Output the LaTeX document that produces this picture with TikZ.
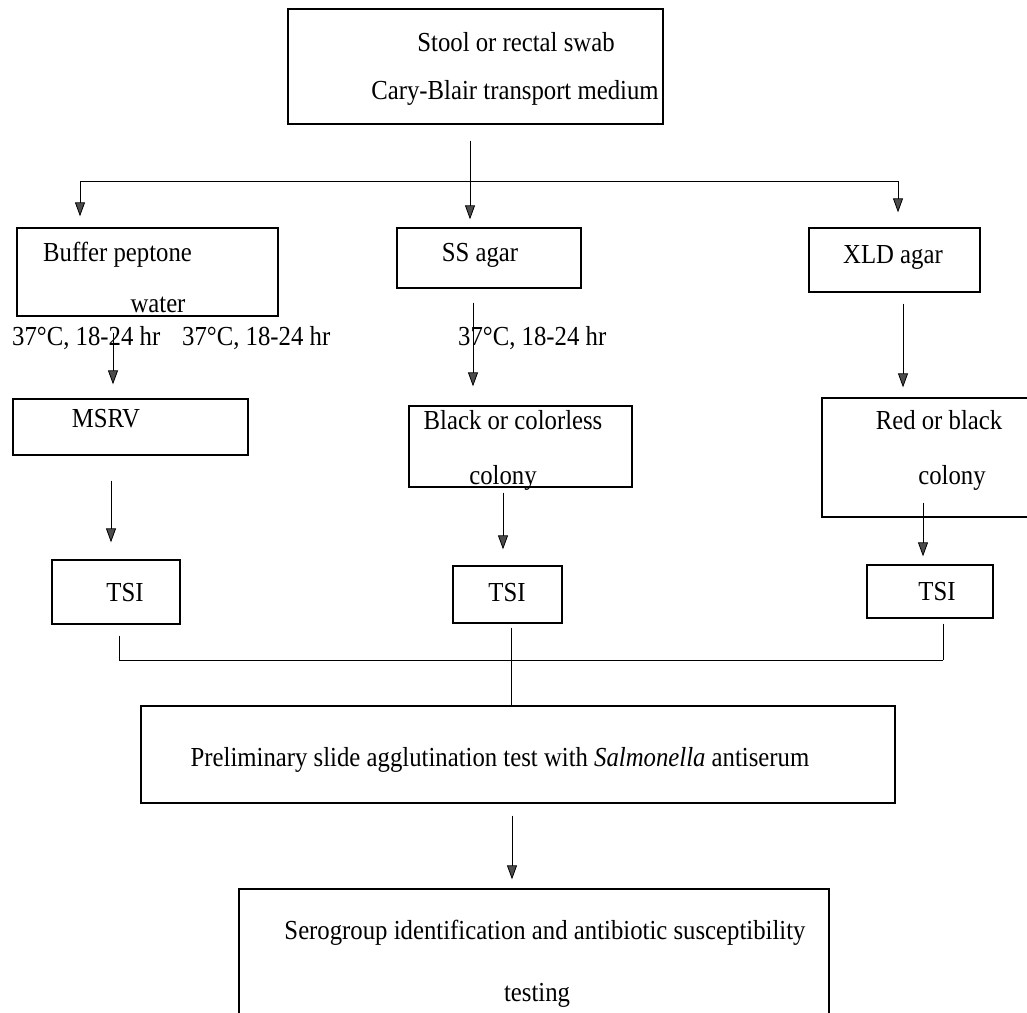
\documentclass[tikz,border=0pt]{standalone}
\usepackage{fontspec}
\setmainfont{Liberation Serif}[FakeStretch=0.9]
\usetikzlibrary{arrows.meta}
\begin{document}
\begin{tikzpicture}[x=1pt,y=-1pt,
  box/.style={draw, line width=1.3pt, rectangle, inner sep=0pt},
  txt/.style={inner sep=0pt, font=\fontsize{27.5}{32}\selectfont},
  ln/.style={line width=0.8pt},
  arr/.style={line width=0.8pt, -{Triangle[width=10pt,length=14pt,fill=black!70]}}]
\path[use as bounding box] (0,0) rectangle (1027,1012);
\clip (0,0) rectangle (1027,1012);

% boxes
\node[box, minimum width=375pt, minimum height=115pt] (top) at (475.5,66.5) {};
\node[box, minimum width=261pt, minimum height=88pt] (buf) at (147.5,272) {};
\node[box, minimum width=184pt, minimum height=60pt] (ss) at (489,258) {};
\node[box, minimum width=171pt, minimum height=64pt] (xld) at (894.5,260) {};
\node[box, minimum width=235pt, minimum height=56pt] (msrv) at (130.5,427) {};
\node[box, minimum width=223pt, minimum height=81pt] (black) at (520.5,446.5) {};
\node[box, minimum width=208pt, minimum height=119pt] (red) at (926,457.5) {};
\node[box, minimum width=128pt, minimum height=64pt] (tsi1) at (116,592) {};
\node[box, minimum width=109pt, minimum height=57pt] (tsi2) at (507.5,594.5) {};
\node[box, minimum width=126pt, minimum height=53pt] (tsi3) at (930,591.5) {};
\node[box, minimum width=754pt, minimum height=97pt] (prelim) at (518,754.5) {};
\node[box, minimum width=590pt, minimum height=136pt] (sero) at (534,957) {};

% texts
\node[txt] (t1a) at (516,42) {Stool or rectal swab};
\node[txt] (t1b) at (515,93) {Cary-Blair transport medium};
\node[txt, anchor=west] (t2a) at (43,255) {Buffer peptone};
\node[txt] (t2b) at (158,305) {water};
\node[txt] (t3) at (480,255) {SS agar};
\node[txt] (t4) at (893,257) {XLD agar};
\node[txt, anchor=west] (l1) at (12,338) {37°C, 18-24 hr};
\node[txt, anchor=west] (l2) at (182,338) {37°C, 18-24 hr};
\node[txt, anchor=west] (l3) at (458,338) {37°C, 18-24 hr};
\node[txt] (t5) at (106,419) {MSRV};
\node[txt] (t6a) at (513,420) {Black or colorless};
\node[txt] (t6b) at (503,478) {colony};
\node[txt] (t7a) at (939,420) {Red or black};
\node[txt] (t7b) at (952,478) {colony};
\node[txt] (t8) at (125,593) {TSI};
\node[txt] (t9) at (507,593) {TSI};
\node[txt] (t10) at (937,592) {TSI};
\node[txt] (t11) at (500,760) {Preliminary slide agglutination test with \textit{Salmonella} antiserum};
\node[txt] (t12a) at (545,933) {Serogroup identification and antibiotic susceptibility};
\node[txt] (t12b) at (537,995) {testing};

% connectors
\coordinate (jx) at (470,181);
\coordinate (jl) at (80,181);
\coordinate (jr) at (898,181);
\draw[ln] ([yshift=-16pt]top.south -| jx) -- (jx);
\draw[ln] (jl) -- (jr);
\draw[arr, shorten >=11pt] (jl) -- (buf.north -| jl);
\draw[arr, shorten >=8pt] (jx) -- (ss.north -| jx);
\draw[arr, shorten >=15pt] (jr) -- (xld.north -| jr);

\coordinate (c1) at (113,0);
\coordinate (c2) at (473,0);
\coordinate (c3) at (903,0);
\coordinate (c4) at (111,0);
\coordinate (c5) at (503,0);
\coordinate (c6) at (923,0);
\coordinate (c7) at (512,0);
\draw[arr, shorten <=16pt, shorten >=14pt] (buf.south -| c1) -- (msrv.north -| c1);
\draw[arr, shorten <=14pt, shorten >=19pt] (ss.south -| c2) -- (black.north -| c2);
\draw[arr, shorten <=11pt, shorten >=10pt] (xld.south -| c3) -- (red.north -| c3);
\draw[arr, shorten <=25pt, shorten >=17pt] (msrv.south -| c4) -- (tsi1.north -| c4);
\draw[arr, shorten <=5pt, shorten >=16pt] (black.south -| c5) -- (tsi2.north -| c5);
\draw[arr, shorten <=-15pt, shorten >=8pt] (red.south -| c6) -- (tsi3.north -| c6);

\coordinate (h1) at (119,660);
\coordinate (h2) at (511,660);
\coordinate (h3) at (943,660);
\draw[ln] ([yshift=-11pt]tsi1.south -| h1) -- (h1);
\draw[ln] ([yshift=-4pt]tsi2.south -| h2) -- (h2);
\draw[ln] ([yshift=-5pt]tsi3.south -| h3) -- (h3);
\draw[ln] (h1) -- (h3);
\draw[ln] (h2) -- (prelim.north -| h2);
\draw[arr, shorten <=12pt, shorten >=9pt] (prelim.south -| c7) -- (sero.north -| c7);
\end{tikzpicture}
\end{document}
